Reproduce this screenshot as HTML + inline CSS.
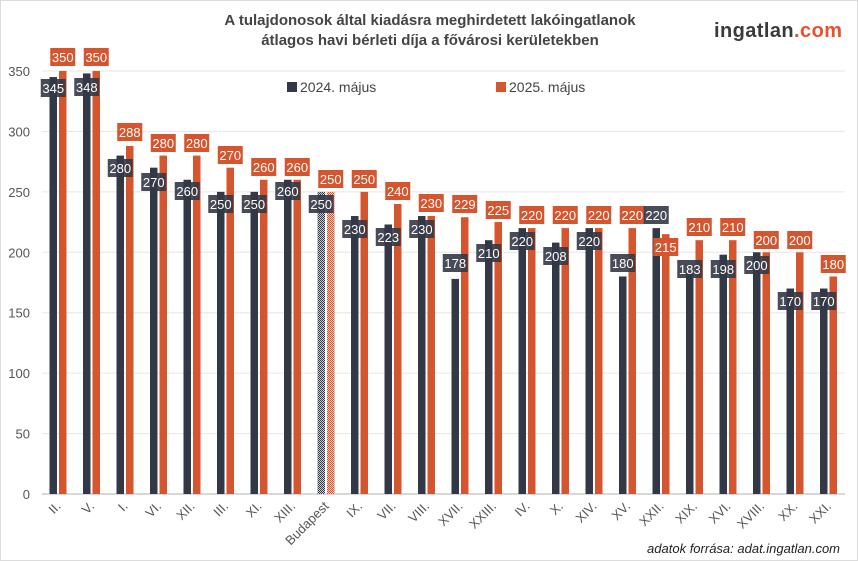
<!DOCTYPE html>
<html><head><meta charset="utf-8"><style>
body{margin:0;background:#fff}
svg{display:block;font-family:"Liberation Sans",Arial,sans-serif}
</style></head><body>
<svg width="858" height="561" viewBox="0 0 858 561" xmlns="http://www.w3.org/2000/svg">
<defs>
<pattern id="pd" width="2" height="2" patternUnits="userSpaceOnUse"><rect width="2" height="2" fill="#c9ccd4"/><rect width="1" height="1" fill="#333846"/><rect x="1" y="1" width="1" height="1" fill="#333846"/></pattern>
<pattern id="po" width="2" height="2" patternUnits="userSpaceOnUse"><rect width="2" height="2" fill="#f3c5b4"/><rect width="1" height="1" fill="#d4552e"/><rect x="1" y="1" width="1" height="1" fill="#d4552e"/></pattern>
</defs>
<rect x="0.5" y="0.5" width="857" height="560" fill="#fff" stroke="#dcdcdc"/>
<text x="430" y="25" text-anchor="middle" font-size="15" font-weight="bold" fill="#444">A tulajdonosok által kiadásra meghirdetett lakóingatlanok</text>
<text x="430" y="45" text-anchor="middle" font-size="15" font-weight="bold" fill="#444">átlagos havi bérleti díja a fővárosi kerületekben</text>
<text x="714" y="37" font-size="20" font-weight="bold" fill="#3a3a3a" textLength="128">ingatlan<tspan fill="#e8502f">.com</tspan></text>
<g id="grid" stroke="#e2e2e2" stroke-width="1"></g>
<g id="yl" font-size="13" fill="#555" text-anchor="end"></g>
<rect x="287" y="82" width="10" height="10" fill="#333846"/>
<text x="300" y="92" font-size="14" fill="#444">2024. május</text>
<rect x="496" y="82" width="10" height="10" fill="#d4552e"/>
<text x="509" y="92" font-size="14" fill="#444">2025. május</text>
<g id="bars"></g>
<g id="xl" font-size="13" fill="#555" text-anchor="end"></g>
<text x="840" y="553" text-anchor="end" font-size="13" font-style="italic" fill="#222">adatok forrása: adat.ingatlan.com</text>
</svg>
<script>
var ns="http://www.w3.org/2000/svg";
function el(p,t,a,txt){var e=document.createElementNS(ns,t);for(var k in a)e.setAttribute(k,a[k]);if(txt!=null)e.textContent=txt;document.getElementById(p).appendChild(e);return e;}
var y0=494,k=1.2086;
for(var v=0;v<=350;v+=50){var y=y0-v*k;el("grid","line",{x1:42,x2:845,y1:y,y2:y,stroke:v==0?"#d8d8d8":"#e6e6e6","stroke-width":v==0?2:1});el("yl","text",{x:30,y:y+5},v);}
var d=[["II.",345,350,88,57],["V.",348,350,87,57],["I.",280,288,168,132],["VI.",270,280,182,143],["XII.",260,280,191,143],["III.",250,270,204,155],["XI.",250,260,204,167],["XIII.",260,260,191,167],["Budapest",250,250,204,179],["IX.",230,250,229,179],["VII.",223,240,237,191],["VIII.",230,230,229,203],["XVII.",178,229,263,204],["XXIII.",210,225,253,210],["IV.",220,220,241,215],["X.",208,220,256,215],["XIV.",220,220,241,215],["XV.",180,220,263,215],["XXII.",220,215,215,247],["XIX.",183,210,269,227],["XVI.",198,210,269,227],["XVIII.",200,200,265,240],["XX.",170,200,301,240],["XXI.",170,180,301,264]];
d.forEach(function(r,i){var x=49.5+i*33.5;var b=r[0]=="Budapest";
var h1=r[1]*k,h2=r[2]*k;
el("bars","rect",{x:x,y:y0-h1,width:7.5,height:h1,fill:b?"url(#pd)":"#333846"});
el("bars","rect",{x:x+9.5,y:y0-h2,width:7.5,height:h2,fill:b?"url(#po)":"#d4552e"});
el("bars","rect",{x:x+3.75-12.5,y:r[3]-9,width:25,height:18,fill:"rgba(52,57,70,0.9)"});
el("bars","text",{x:x+3.75,y:r[3]+5,"text-anchor":"middle","font-size":13,fill:"#fff"},r[1]);
el("bars","rect",{x:x+13.25-12.5,y:r[4]-9,width:25,height:18,fill:"#d4552e"});
el("bars","text",{x:x+13.25,y:r[4]+5,"text-anchor":"middle","font-size":13,fill:"#fff"},r[2]);
var cx=x+12,cy=507;
el("xl","text",{x:cx,y:cy,transform:"rotate(-45 "+cx+" "+cy+")"},r[0]);
});
</script>
</body></html>
